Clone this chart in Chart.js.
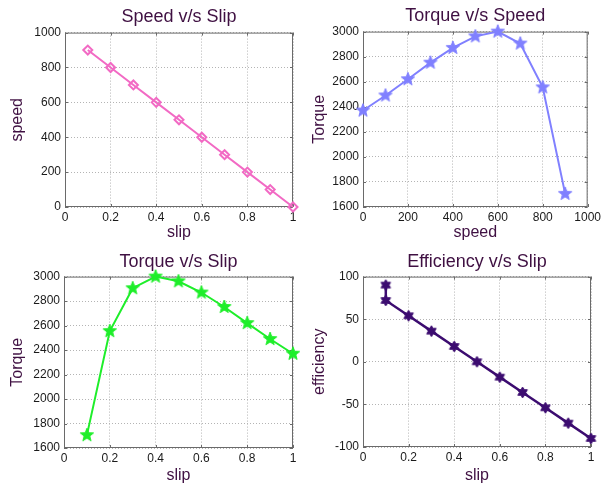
<!DOCTYPE html>
<html>
<head>
<meta charset="utf-8">
<script src="https://cdn.jsdelivr.net/npm/chart.js@4/dist/chart.umd.min.js"></script>
<style>
  html, body { margin: 0; padding: 0; background: #fff; }
  #wrap { position: relative; width: 604px; height: 486px; }
  canvas { position: absolute; }
</style>
</head>
<body>
<div id="wrap">
  <canvas id="c1" width="302" height="243" style="left:0;top:0"></canvas>
  <canvas id="c2" width="302" height="243" style="left:302px;top:0"></canvas>
  <canvas id="c3" width="302" height="243" style="left:0;top:243px"></canvas>
  <canvas id="c4" width="302" height="243" style="left:302px;top:243px"></canvas>
</div>
<script>
// values
const slip = [0.1, 0.2, 0.3, 0.4, 0.5, 0.6, 0.7, 0.8, 0.9, 1.0];
const speed = [900, 800, 700, 600, 500, 400, 300, 200, 100, 0];
const torque = [1705, 2555, 2905, 3000, 2962, 2870, 2752, 2620, 2490, 2370];
const effSlip = [0.1, 0.1, 0.2, 0.3, 0.4, 0.5, 0.6, 0.7, 0.8, 0.9, 1.0];
const efficiency = [90, 72, 54, 36, 18, 0, -18, -36, -54, -72, -90];

// tick labels
const slipTicks = [0, 0.2, 0.4, 0.6, 0.8, 1];
const speedTicks = [0, 200, 400, 600, 800, 1000];
const torqueTicks = [1600, 1800, 2000, 2200, 2400, 2600, 2800, 3000];
const effTicks = [-100, -50, 0, 50, 100];

const FONT = "'Liberation Sans', Arial, sans-serif";
const TITLE_COLOR = '#3f1042';
const GRID = '#b4b4b4';

function starMarker(color, points, outer, innerRatio) {
    const size = Math.ceil(outer * 2 + 4);
    const c = document.createElement('canvas');
    c.width = size;
    c.height = size;
    const ctx = c.getContext('2d');
    ctx.translate(size / 2, size / 2);
    ctx.beginPath();
    for (let i = 0; i < points * 2; i++) {
        const r = i % 2 ? outer * innerRatio : outer;
        const a = -Math.PI / 2 + i * Math.PI / points;
        ctx.lineTo(r * Math.cos(a), r * Math.sin(a));
    }
    ctx.closePath();
    ctx.fillStyle = color;
    ctx.fill();
    ctx.lineWidth = 1;
    ctx.strokeStyle = color;
    ctx.stroke();
    return c;
}

// matlab style box + inward tick marks
const boxPlugin = {
    id: 'box',
    beforeDatasetsDraw(chart) {
        const { ctx, chartArea: a, scales } = chart;
        ctx.save();
        ctx.strokeStyle = '#6a6a6a';
        ctx.lineWidth = 1;
        ctx.strokeRect(a.left + 0.5, a.top + 0.5, a.right - a.left - 1, a.bottom - a.top - 1);
        ctx.beginPath();
        scales.x.ticks.forEach(t => {
            const px = Math.round(scales.x.getPixelForValue(t.value)) + 0.5;
            ctx.moveTo(px, a.bottom); ctx.lineTo(px, a.bottom - 3);
            ctx.moveTo(px, a.top); ctx.lineTo(px, a.top + 3);
        });
        scales.y.ticks.forEach(t => {
            const py = Math.round(scales.y.getPixelForValue(t.value)) + 0.5;
            ctx.moveTo(a.left, py); ctx.lineTo(a.left + 3, py);
            ctx.moveTo(a.right, py); ctx.lineTo(a.right - 3, py);
        });
        ctx.stroke();
        ctx.restore();
    }
};

function axis(o) {
    return {
        type: 'linear',
        min: o.ticks[0],
        max: o.ticks[o.ticks.length - 1],
        afterBuildTicks: s => { s.ticks = o.ticks.map(v => ({ value: v })); },
        afterFit: s => { if (o.w) s.width = o.w; if (o.h) s.height = o.h; },
        grid: { color: GRID, drawTicks: false },
        border: { display: false, dash: [1, 2] },
        ticks: {
            color: '#1a1a1a',
            padding: o.pad,
            maxRotation: 0,
            autoSkip: false,
            font: { family: FONT, size: 12 },
            callback: v => String(+v.toFixed(2))
        },
        title: {
            display: true,
            text: o.label,
            color: TITLE_COLOR,
            font: { family: FONT, size: 16 },
            padding: o.titlePad
        }
    };
}

function subplot(id, o) {
    new Chart(document.getElementById(id), {
        type: 'line',
        data: {
            datasets: [{
                data: o.xs.map((x, i) => ({ x: x, y: o.ys[i] })),
                borderColor: o.color,
                borderWidth: o.lw,
                pointStyle: o.marker,
                pointRadius: o.radius,
                pointBorderColor: o.color,
                pointBorderWidth: 2,
                pointBackgroundColor: 'rgba(255,255,255,0)',
                tension: 0,
                clip: false
            }]
        },
        options: {
            responsive: false,
            animation: false,
            events: [],
            layout: { padding: { right: o.padRight } },
            plugins: {
                legend: { display: false },
                tooltip: { enabled: false },
                title: {
                    display: true,
                    fullSize: false,
                    text: o.title,
                    color: TITLE_COLOR,
                    font: { family: FONT, size: 18, weight: 'normal' },
                    padding: { top: o.tTop, bottom: o.tBottom }
                }
            },
            scales: {
                x: axis({ ticks: o.xTicks, h: o.xH, pad: 3, label: o.xLabel, titlePad: { top: 0, bottom: 1 } }),
                y: axis({ ticks: o.yTicks, w: o.yW, pad: 4, label: o.yLabel, titlePad: { top: 8, bottom: 0 } })
            }
        },
        plugins: [boxPlugin]
    });
}

subplot('c1', {
    title: 'Speed v/s Slip', xLabel: 'slip', yLabel: 'speed',
    xs: slip, ys: speed, xTicks: slipTicks, yTicks: [0, 200, 400, 600, 800, 1000],
    color: '#f26ac4', lw: 2, marker: 'rectRot', radius: 4.5,
    tTop: 6, tBottom: 5, yW: 65, xH: 36, padRight: 9
});

subplot('c2', {
    title: 'Torque v/s Speed', xLabel: 'speed', yLabel: 'Torque',
    xs: speed, ys: torque, xTicks: speedTicks, yTicks: torqueTicks,
    color: '#8080ff', lw: 2, marker: starMarker('#8080ff', 5, 7, 0.42), radius: 5,
    tTop: 5, tBottom: 5, yW: 61, xH: 36, padRight: 15
});

subplot('c3', {
    title: 'Torque v/s Slip', xLabel: 'slip', yLabel: 'Torque',
    xs: slip, ys: torque, xTicks: slipTicks, yTicks: torqueTicks,
    color: '#1eee2a', lw: 2, marker: starMarker('#1eee2a', 5, 7, 0.42), radius: 5,
    tTop: 8, tBottom: 4, yW: 64, xH: 38, padRight: 9
});

subplot('c4', {
    title: 'Efficiency v/s Slip', xLabel: 'slip', yLabel: 'efficiency',
    xs: effSlip, ys: efficiency, xTicks: slipTicks, yTicks: effTicks,
    color: '#3c0c70', lw: 2.5, marker: starMarker('#3c0c70', 6, 5.5, 0.58), radius: 5,
    tTop: 8, tBottom: 4, yW: 61, xH: 39, padRight: 13
});
</script>
</body>
</html>
